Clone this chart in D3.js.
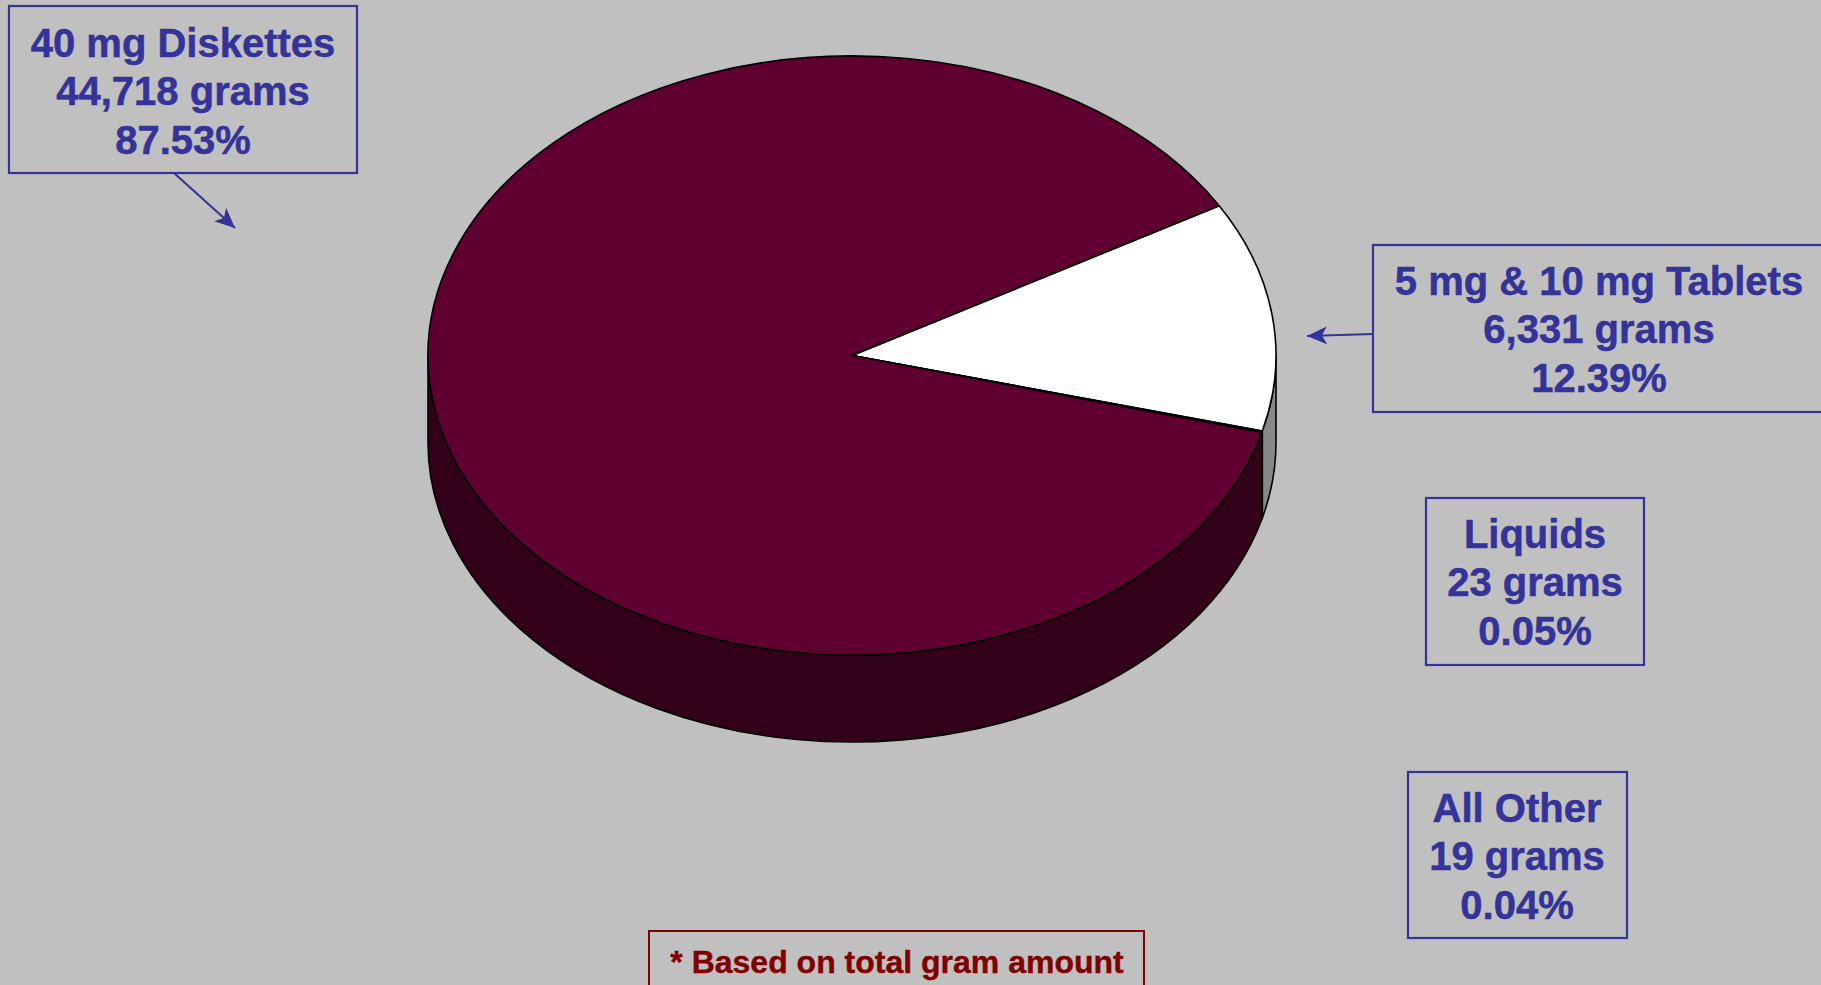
<!DOCTYPE html>
<html>
<head>
<meta charset="utf-8">
<script src="https://cdn.jsdelivr.net/npm/d3@7"></script>
<style>
  html, body { margin: 0; padding: 0; background: #c0c0c0; overflow: hidden; }
  svg { display: block; }
  .lbl { font-family: "Liberation Sans", Arial, sans-serif; font-weight: bold; }
</style>
</head>
<body>
<svg id="chart" width="1821" height="985"></svg>
<script>
// Product forms and their gram totals
const categories = ["5 mg & 10 mg Tablets", "Liquids", "All Other", "40 mg Diskettes"];
const grams      = [6331, 23, 19, 44718];
const gramLabels = ["6,331 grams", "23 grams", "19 grams", "44,718 grams"];
const pctLabels  = ["12.39%", "0.05%", "0.04%", "87.53%"];
const topColors  = ["#ffffff", "#ffffcc", "#ccffff", "#600030"];
const footnote   = "* Based on total gram amount";

const svg = d3.select("#chart");
const W = 1821, H = 985;

svg.append("rect").attr("width", W).attr("height", H).attr("fill", "#c0c0c0");

// 3D pie geometry: elliptical top face plus an extruded front wall
const cx = 852, cy = 355.5, rx = 424, ry = 299.5, depth = 87;

const pie = d3.pie().sort(null).value(d => d)
  .startAngle(Math.PI / 3).endAngle(Math.PI / 3 + 2 * Math.PI);
const arcs = pie(grams).map((a, i) => Object.assign(a, { i }));

const pt = (a, dy = 0) => [cx + rx * Math.sin(a), cy - ry * Math.cos(a) + dy];

function topPath(a0, a1) {
  const p0 = pt(a0), p1 = pt(a1);
  const large = (a1 - a0) > Math.PI ? 1 : 0;
  return `M${cx},${cy}L${p0[0]},${p0[1]}A${rx},${ry} 0 ${large} 1 ${p1[0]},${p1[1]}Z`;
}

function sidePath(a0, a1) {
  const t0 = pt(a0), t1 = pt(a1), b0 = pt(a0, depth), b1 = pt(a1, depth);
  const large = (a1 - a0) > Math.PI ? 1 : 0;
  return `M${t0[0]},${t0[1]}A${rx},${ry} 0 ${large} 1 ${t1[0]},${t1[1]}` +
         `L${b1[0]},${b1[1]}A${rx},${ry} 0 ${large} 0 ${b0[0]},${b0[1]}Z`;
}

// visible front wall spans angles pi/2 .. 3pi/2 (lower half of the ellipse)
const sides = [];
arcs.forEach(a => {
  for (const k of [0, 1]) {
    const lo = Math.PI / 2 + 2 * Math.PI * k, hi = 3 * Math.PI / 2 + 2 * Math.PI * k;
    const s = Math.max(a.startAngle, lo), e = Math.min(a.endAngle, hi);
    if (e > s) sides.push({ s, e, i: a.i });
  }
});

const sideColor = c => d3.interpolateRgb(c, "#000000")(0.47);

const g = svg.append("g");
g.selectAll("path.side").data(sides).join("path")
  .attr("class", "side")
  .attr("d", d => sidePath(d.s, d.e))
  .attr("fill", d => sideColor(topColors[d.i]))
  .attr("stroke", "#000").attr("stroke-width", 1.6).attr("stroke-linejoin", "round");

g.selectAll("path.top").data(arcs).join("path")
  .attr("class", "top")
  .attr("d", d => topPath(d.startAngle, d.endAngle))
  .attr("fill", d => topColors[d.i])
  .attr("stroke", "#000").attr("stroke-width", 1.6).attr("stroke-linejoin", "round");

// Arrowhead marker
const defs = svg.append("defs");
defs.append("marker")
  .attr("id", "arrow").attr("viewBox", "0 0 20 20")
  .attr("refX", 20).attr("refY", 10)
  .attr("markerWidth", 20).attr("markerHeight", 20)
  .attr("markerUnits", "userSpaceOnUse").attr("orient", "auto")
  .append("path").attr("d", "M0,1 L20,10 L0,19 L5,10 Z").attr("fill", "#333399");

// Callout boxes (x0, y0, x1, y1, text centre, first baseline)
const boxes = [
  { i: 3, x0: 9,    y0: 6,   x1: 357,  y1: 173, tx: 183,  by: 57 },
  { i: 0, x0: 1373, y0: 245, x1: 1840, y1: 412, tx: 1599, by: 295 },
  { i: 1, x0: 1426, y0: 498, x1: 1644, y1: 665, tx: 1535, by: 548 },
  { i: 2, x0: 1408, y0: 772, x1: 1627, y1: 938, tx: 1517, by: 822 }
];
const lineGap = 48.3;

const lg = svg.append("g");
boxes.forEach(b => {
  lg.append("rect")
    .attr("x", b.x0).attr("y", b.y0)
    .attr("width", b.x1 - b.x0).attr("height", b.y1 - b.y0)
    .attr("fill", "none").attr("stroke", "#333399").attr("stroke-width", 2.2);
  const lines = [categories[b.i], gramLabels[b.i], pctLabels[b.i]];
  lg.selectAll(null).data(lines).join("text")
    .attr("class", "lbl")
    .attr("x", b.tx).attr("y", (d, k) => b.by + k * lineGap)
    .attr("text-anchor", "middle")
    .attr("font-size", 40).attr("fill", "#333399")
    .attr("stroke", "#333399").attr("stroke-width", 0.5)
    .text(d => d);
});

// Leader arrows
lg.append("line").attr("x1", 174).attr("y1", 173).attr("x2", 235).attr("y2", 228)
  .attr("stroke", "#333399").attr("stroke-width", 2).attr("marker-end", "url(#arrow)");
lg.append("line").attr("x1", 1373).attr("y1", 334).attr("x2", 1307).attr("y2", 336)
  .attr("stroke", "#333399").attr("stroke-width", 2).attr("marker-end", "url(#arrow)");

// Footnote
svg.append("rect").attr("x", 649).attr("y", 931).attr("width", 495).attr("height", 80)
  .attr("fill", "none").attr("stroke", "#800000").attr("stroke-width", 2);
svg.append("text").attr("class", "lbl")
  .attr("x", 897).attr("y", 973).attr("text-anchor", "middle")
  .attr("font-size", 32).attr("fill", "#800000")
  .attr("stroke", "#800000").attr("stroke-width", 0.4)
  .text(footnote);
</script>
</body>
</html>
